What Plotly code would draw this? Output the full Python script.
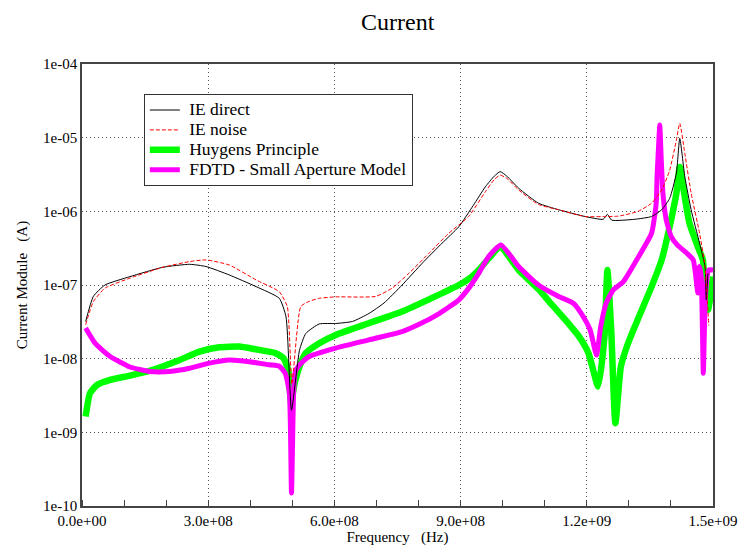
import plotly.graph_objects as go

# ---------------- data ----------------
ie_direct_f = [8.7e6, 2.7e7, 5.45e7, 1.14e8, 1.92e8, 2.56e8, 2.95e8, 3.5e8, 4.14e8, 4.69e8,
               4.85e8, 4.98e8, 5.17e8, 5.32e8, 5.64e8, 6.03e8, 6.43e8, 6.82e8, 7.18e8, 7.61e8,
               8.09e8, 8.56e8, 8.96e8, 9.30e8, 9.59e8, 9.80e8, 9.94e8, 1.01e9, 1.038e9, 1.085e9,
               1.133e9, 1.196e9, 1.239e9, 1.249e9, 1.259e9, 1.314e9, 1.354e9, 1.378e9, 1.397e9,
               1.413e9, 1.421e9, 1.433e9, 1.448e9, 1.468e9, 1.481e9, 1.484e9, 1.488e9]
ie_direct_v = [3.2e-8, 7.0e-8, 1.0e-7, 1.3e-7, 1.74e-7, 1.91e-7, 1.78e-7, 1.37e-7, 9.5e-8, 6.6e-8,
               3.7e-8, 2.0e-9, 1.3e-8, 2.2e-8, 2.96e-8, 3.0e-8, 3.2e-8, 4.1e-8, 5.7e-8, 1.0e-7,
               1.98e-7, 3.7e-7, 6.2e-7, 1.2e-6, 2.16e-6, 3.0e-6, 3.46e-6, 3.0e-6, 2.06e-6, 1.29e-6,
               1.05e-6, 8.5e-7, 7.8e-7, 9.1e-7, 7.6e-7, 7.8e-7, 8.5e-7, 1.05e-6, 1.5e-6,
               3.3e-6, 9.8e-6, 2.95e-6, 1.05e-6, 3.7e-7, 1.78e-7, 6.3e-8, 1.44e-7]

ie_noise_f = [8.7e6, 2.7e7, 5.45e7, 1.14e8, 1.92e8, 2.56e8, 2.95e8, 3.5e8, 4.14e8, 4.69e8,
              4.88e8, 4.99e8, 5.2e8, 5.4e8, 5.64e8, 6.03e8, 6.98e8, 7.37e8, 7.77e8, 8.25e8,
              8.72e8, 9.19e8, 9.59e8, 9.80e8, 9.94e8, 1.01e9, 1.038e9, 1.085e9, 1.133e9, 1.196e9,
              1.239e9, 1.275e9, 1.322e9, 1.354e9, 1.378e9, 1.397e9, 1.413e9, 1.421e9, 1.433e9,
              1.448e9, 1.468e9, 1.481e9, 1.49e9]
ie_noise_v = [2.9e-8, 5.95e-8, 9.05e-8, 1.24e-7, 1.74e-7, 2.08e-7, 2.19e-7, 1.87e-7, 1.17e-7, 8.1e-8,
              5.1e-8, 4.5e-9, 5.1e-8, 6.0e-8, 6.6e-8, 6.9e-8, 7.0e-8, 9.05e-8, 1.44e-7, 2.7e-7,
              5.05e-7, 8.5e-7, 1.85e-6, 2.7e-6, 3.1e-6, 2.8e-6, 1.95e-6, 1.24e-6, 1.05e-6, 8.5e-7,
              8.5e-7, 8.6e-7, 1.0e-6, 1.29e-6, 1.95e-6, 3.6e-6, 9.3e-6, 1.57e-5, 6.1e-6,
              1.77e-6, 5.05e-7, 1.78e-7, 2.8e-8]

huygens_f = [8.7e6, 1.9e7, 3.6e7, 6.7e7, 1.14e8, 1.68e8, 2.32e8, 2.79e8, 3.26e8, 3.74e8,
             4.1e8, 4.6e8, 4.79e8, 4.9e8, 4.97e8, 5.05e8, 5.17e8, 5.32e8, 5.64e8, 6.03e8,
             6.82e8, 7.61e8, 8.4e8, 8.96e8, 9.19e8, 9.43e8, 9.67e8, 9.94e8, 1.038e9, 1.085e9,
             1.117e9, 1.149e9, 1.18e9, 1.204e9, 1.227e9, 1.242e9, 1.249e9, 1.258e9, 1.268e9,
             1.281e9, 1.298e9, 1.322e9, 1.354e9, 1.378e9, 1.397e9, 1.413e9, 1.421e9, 1.429e9,
             1.444e9, 1.464e9, 1.476e9, 1.481e9, 1.488e9, 1.5e9]
huygens_v = [1.64e-9, 3.4e-9, 4.4e-9, 5.15e-9, 5.9e-9, 7.05e-9, 9.6e-9, 1.25e-8, 1.43e-8, 1.46e-8,
             1.35e-8, 1.19e-8, 1.02e-8, 7.05e-9, 2.5e-9, 4.5e-9, 7.8e-9, 1.19e-8, 1.62e-8, 2.1e-8,
             3.03e-8, 4.36e-8, 7.0e-8, 1.0e-7, 1.2e-7, 1.6e-7, 2.3e-7, 3.3e-7, 1.6e-7, 8.8e-8,
             5.4e-8, 3.36e-8, 2.05e-8, 1.19e-8, 4.2e-9, 2.0e-8, 1.6e-7, 2.45e-8, 1.33e-9,
             7.8e-9, 1.62e-8, 3.5e-8, 9.5e-8, 2.19e-7, 6.2e-7, 1.76e-6, 4.0e-6, 2.16e-6,
             6.9e-7, 3.3e-7, 2.19e-7, 7.0e-8, 4.6e-8, 1.3e-7]

fdtd_f = [8.7e6, 3.1e7, 6.7e7, 1.14e8, 1.61e8, 2.08e8, 2.56e8, 3.03e8, 3.5e8, 3.98e8,
          4.45e8, 4.69e8, 4.83e8, 4.93e8, 4.98e8, 5.03e8, 5.07e8, 5.17e8, 5.4e8, 6.03e8,
          6.82e8, 7.61e8, 8.0e8, 8.49e8, 8.96e8, 9.19e8, 9.43e8, 9.67e8, 9.96e8, 1.038e9,
          1.085e9, 1.133e9, 1.168e9, 1.187e9, 1.208e9, 1.223e9, 1.233e9, 1.246e9, 1.263e9,
          1.287e9, 1.314e9, 1.354e9, 1.365e9, 1.367e9, 1.371e9, 1.3735e9, 1.377e9, 1.381e9,
          1.389e9, 1.401e9, 1.415e9, 1.438e9, 1.453e9, 1.464e9, 1.468e9, 1.472e9, 1.477e9,
          1.482e9, 1.49e9, 1.5e9]
fdtd_v = [2.6e-8, 1.62e-8, 1.07e-8, 7.7e-9, 6.7e-9, 6.7e-9, 7.4e-9, 8.7e-9, 9.6e-9, 9.1e-9,
          8.25e-9, 7.9e-9, 6.35e-9, 3.4e-9, 1.5e-10, 3.4e-9, 6.7e-9, 8.25e-9, 1.07e-8, 1.39e-8,
          1.8e-8, 2.33e-8, 2.9e-8, 4.1e-8, 6.3e-8, 9.0e-8, 1.44e-7, 2.45e-7, 3.5e-7, 1.78e-7,
          1.0e-7, 7.0e-8, 5.66e-8, 4.1e-8, 2.45e-8, 1.12e-8, 2.7e-8, 5.66e-8, 8.6e-8,
          1.11e-7, 1.98e-7, 5.05e-7, 1.29e-6, 2.95e-6, 8.4e-6, 1.48e-5, 5.0e-6, 1.76e-6,
          7.6e-7, 4.5e-7, 3.5e-7, 2.7e-7, 2.19e-7, 7.8e-8, 1.78e-7, 1.3e-7, 6.35e-9,
          7.0e-8, 1.6e-7, 1.6e-7]

series_names = ["IE direct", "IE noise", "Huygens Principle", "FDTD - Small Aperture Model"]

x_tickvals = [0, 3e8, 6e8, 9e8, 1.2e9, 1.5e9]
x_ticktext = ["0.0e+00", "3.0e+08", "6.0e+08", "9.0e+08", "1.2e+09", "1.5e+09"]
y_tickvals = [1e-10, 1e-9, 1e-8, 1e-7, 1e-6, 1e-5, 1e-4]
y_ticktext = ["1e-10", "1e-09", "1e-08", "1e-07", "1e-06", "1e-05", "1e-04"]

SERIF = "Liberation Serif, Times New Roman, serif"
SM = 0.5


def leg(name):
    # larger visible text while keeping the compact row spacing of the original legend
    return '<span style="font-size:17.5px">&nbsp;' + name + '</span>'


fig = go.Figure()
fig.add_trace(go.Scatter(x=huygens_f, y=huygens_v, mode="lines", name=leg(series_names[2]),
                         line=dict(color="#00ff00", width=6.5, shape="spline", smoothing=SM),
                         legendrank=3))
fig.add_trace(go.Scatter(x=fdtd_f, y=fdtd_v, mode="lines", name=leg(series_names[3]),
                         line=dict(color="#ff00ff", width=5, shape="spline", smoothing=SM),
                         legendrank=4))
fig.add_trace(go.Scatter(x=ie_direct_f, y=ie_direct_v, mode="lines", name=leg(series_names[0]),
                         line=dict(color="black", width=1, shape="spline", smoothing=SM),
                         legendrank=1))
fig.add_trace(go.Scatter(x=ie_noise_f, y=ie_noise_v, mode="lines", name=leg(series_names[1]),
                         line=dict(color="#ff0000", width=1, dash="4px,2px", shape="spline",
                                   smoothing=SM),
                         legendrank=2))

fig.update_layout(
    width=741, height=547,
    margin=dict(l=74, r=34, t=56, b=49),
    paper_bgcolor="white", plot_bgcolor="white",
    font=dict(family=SERIF, size=15, color="black"),
    title=dict(text="Current", x=0.526, xanchor="center", y=0.9753, yanchor="middle",
               font=dict(family=SERIF, size=24, color="black")),
    showlegend=True,
    legend=dict(x=0.098, y=0.932, xanchor="left", yanchor="top",
                bgcolor="white", bordercolor="#333333", borderwidth=1,
                font=dict(family=SERIF, size=13, color="black"),
                tracegroupgap=0, itemwidth=30),
)

fig.update_xaxes(
    range=[0, 1.5e9], tickvals=x_tickvals, ticktext=x_ticktext,
    showgrid=True, gridcolor="#555555", griddash="1px,3px", gridwidth=1,
    showline=True, linecolor="#444444", linewidth=1.5, mirror=True,
    ticks="", zeroline=False,
    minor=dict(dtick=1e8, tick0=0, ticks="inside", ticklen=6, tickcolor="#444444", showgrid=False),
    title=dict(text="Frequency   (Hz)", standoff=4, font=dict(family=SERIF, size=15)),
    tickfont=dict(family=SERIF, size=15),
)
fig.update_yaxes(
    type="log", range=[-10, -4], tickvals=y_tickvals, ticktext=y_ticktext,
    showgrid=True, gridcolor="#555555", griddash="1px,3px", gridwidth=1,
    showline=True, linecolor="#444444", linewidth=1.5, mirror=True,
    ticks="", zeroline=False,
    title=dict(text="Current Module   (A)", standoff=12, font=dict(family=SERIF, size=15)),
    tickfont=dict(family=SERIF, size=15),
)

fig.write_html("out.html")
